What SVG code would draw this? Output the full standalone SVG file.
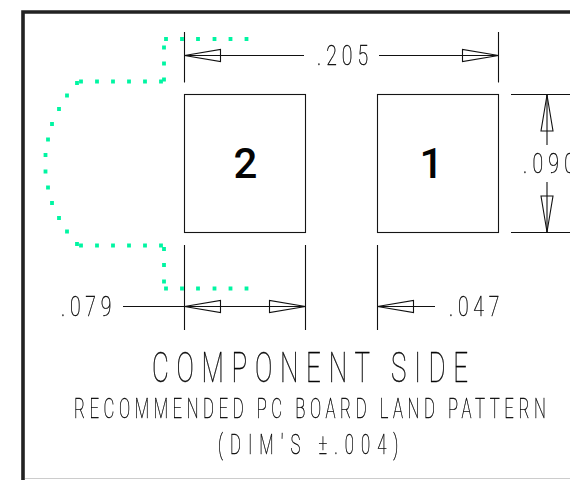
<svg xmlns="http://www.w3.org/2000/svg" width="570" height="480" viewBox="0 0 570 480">
<style>
.l{fill:none;stroke:#111;stroke-width:1.1}
.a{fill:#fff;stroke:#111;stroke-width:1.1}
.d{fill:none;stroke:#00f5a2;stroke-width:3.8;stroke-linecap:square;stroke-linejoin:miter}
.t{font-family:"Roboto","Liberation Sans",sans-serif;font-weight:100;fill:#000;stroke:#000;stroke-width:.4}
.n{font-family:"Roboto","Liberation Sans",sans-serif;font-weight:500;font-size:42px;fill:#000;text-anchor:middle}
#labels,#pad-1,#pad-2{opacity:.98}
</style>
<rect width="570" height="480" fill="#fff"/>
<path d="M23 480V12H570" fill="none" stroke="#222" stroke-width="3.6"/>
<path d="M25 478.500H570" fill="none" stroke="#ccc" stroke-width="1"/>
<g id="pad-2"><rect class="l" x="184.500" y="94.500" width="121" height="138"/><text class="n" x="245.500" y="178">2</text></g>
<g id="pad-1"><rect class="l" x="377.500" y="94.500" width="121" height="138"/><text class="n" x="431.500" y="178">1</text></g>
<g id="connectors">
<path class="l" d="M184.500 32V82.500M498.500 32V82.500M184.500 245V330M305.500 245V330M377.500 245V330M511 94.500H570M511 232.500H570"/>
<path class="l" d="M184.500 55.500H304M379 55.500H498.500M123 306.500H305.500M377.500 306.500H435M547 94.500V145M547 182V232.500"/>
<path class="a" d="M184.500 55.500L220.500 49.500V61.500ZM498.500 55.500L462.500 49.500V61.500ZM184.500 306.500L220.500 300.500V312.500ZM305.500 306.500L269.500 300.500V312.500ZM377.500 306.500L413.500 300.500V312.500ZM547 95L541 131H553ZM547 232L541 196H553Z"/>
<path class="l" d="M184.500 55.500H220.500M462.500 55.500H498.500M184.500 306.500H305.500M377.500 306.500H413.500M547 95V131M547 196V232"/>
<path class="d" d="M166 39h0M182 39h0M198 39h0M214.500 39h0M230.500 39h0M246.500 39h0M164 47.500h0M164 63.500h0M164 79.500h0M81 81.500h0M97 81.500h0M113 81.500h0M129 81.500h0M145 81.500h0M161 81.500h0M77 83h0M67 95.500h0M59 109h0M52 124h0M48 139.500h0M45.500 155h0M45.500 171.500h0M48 187.500h0M52 203h0M59 218h0M67 231.500h0M77 244h0M81 245.500h0M97 245.500h0M113 245.500h0M129 245.500h0M145 245.500h0M161 245.500h0M164 249h0M164 265h0M164 281.500h0M166 288.500h0M182 288.500h0M198 288.500h0M214.500 288.500h0M230.500 288.500h0M246.500 288.500h0"/>
</g>
<g id="labels">
<text class="t" transform="translate(317 65) scale(.72 1)" font-size="27" textLength="71" lengthAdjust="spacing">.205</text>
<text class="t" transform="translate(61 316) scale(.72 1)" font-size="27" textLength="70" lengthAdjust="spacing">.079</text>
<text class="t" transform="translate(449 316) scale(.72 1)" font-size="27" textLength="70" lengthAdjust="spacing">.047</text>
<text class="t" transform="translate(523 173) scale(.72 1)" font-size="27" textLength="72" lengthAdjust="spacing">.090</text>
<text class="t" transform="translate(152 382) scale(.62 1)" font-size="42" textLength="510" lengthAdjust="spacing">COMPONENT SIDE</text>
<text class="t" transform="translate(74 418) scale(.62 1)" font-size="27" textLength="761" lengthAdjust="spacing">RECOMMENDED PC BOARD LAND PATTERN</text>
<text class="t" transform="translate(218 454) scale(.62 1)" font-size="27" textLength="291" lengthAdjust="spacing">(DIM′S ±.004)</text>
</g>
</svg>
